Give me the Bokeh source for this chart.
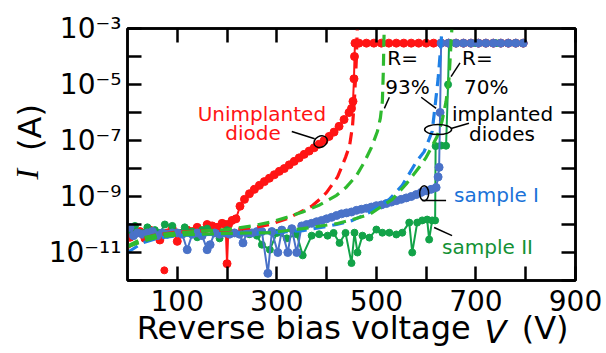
from bokeh.plotting import figure
from bokeh.models import Range1d, LinearAxis, LogAxis, FixedTicker, CustomJSTickFormatter
from bokeh.core.properties import value
from bokeh.embed import file_html
from bokeh.resources import INLINE

# ---------------- data ----------------
xtick_values = [100, 300, 500, 700, 900]
xtick_minor = [200, 400, 600, 800]
ytick_values = [1e-11, 1e-9, 1e-7, 1e-5, 1e-3]
ytick_exps = [-11, -9, -7, -5, -3]
ytick_labels = ["10\u207b\u00b9\u00b9", "10\u207b\u2079", "10\u207b\u2077", "10\u207b\u2075", "10\u207b\u00b3"]
ytick_minor = [1e-12, 1e-10, 1e-8, 1e-6, 1e-4]

# axis title pieces: text and where along the axis each piece is centred
xtitle_plain = ["Reverse bias voltage", "(V)"]
xtitle_plain_at = [354, 839]
xtitle_italic = ["V"]
xtitle_italic_at = [739]
ytitle_plain = ["(A)"]
ytitle_plain_at = [2.9e-7]
ytitle_italic = ["I"]
ytitle_italic_at = [6.3e-9]

# unimplanted diode, measured
red_V = [5, 15, 25, 35, 45, 55, 65, 80, 90, 100, 110, 120, 130, 140, 150, 160, 170, 180, 190, 197,
         200, 203, 210, 218, 226, 235, 245, 255, 265, 275, 285, 295, 305, 315, 325, 335, 345, 355,
         365, 375, 385, 395, 405, 415, 425, 435, 445, 450, 453, 455, 456, 457,
         465, 480, 495, 510, 525, 540, 555, 570, 585, 600, 615, 630, 645, 660, 675, 690, 705, 720,
         735, 750, 765, 780, 795]
red_I = [3.5e-11, 5.0e-11, 5.6e-11, 3.2e-11, 6.3e-11, 4.5e-11, 2.8e-11, 5.0e-11, 7.1e-11, 2.5e-11,
         5.0e-11, 6.3e-11, 5.6e-11, 7.9e-11, 5.0e-11, 1.0e-10, 8.9e-11, 7.9e-11, 1.1e-10, 1.0e-10,
         4.0e-12, 1.0e-10, 1.4e-10, 1.6e-10, 4.5e-10, 7.9e-10, 1.26e-9, 1.8e-9, 2.5e-9, 3.4e-9,
         4.5e-9, 6.0e-9, 7.9e-9, 1.0e-8, 1.35e-8, 1.8e-8, 2.4e-8, 3.2e-8, 4.2e-8, 5.5e-8, 7.4e-8,
         1.0e-7, 1.4e-7, 2.0e-7, 3.2e-7, 5.6e-7, 1.0e-6, 1.4e-6, 2.5e-6, 1.6e-5, 1.0e-4, 3.0e-4,
         3.0e-4, 3.0e-4, 3.0e-4, 3.0e-4, 3.0e-4, 3.0e-4, 3.0e-4, 3.0e-4, 3.0e-4, 3.0e-4, 3.0e-4,
         3.0e-4, 3.0e-4, 3.0e-4, 3.0e-4, 3.0e-4, 3.0e-4, 3.0e-4, 3.0e-4, 3.0e-4, 3.0e-4, 3.0e-4,
         3.0e-4]
red_extra_V = [74]
red_extra_I = [2.3e-12]

# sample I (implanted), measured
blue_V = [5, 12, 20, 30, 40, 50, 60, 70, 80, 90, 100, 110, 120, 130, 140, 150, 160, 166, 175, 185,
          195, 205, 215, 225, 232, 240, 250, 260, 270, 282, 290, 302, 310, 322, 330, 340, 350, 360,
          370, 380, 390, 400, 410, 420, 430, 440, 450, 460, 470, 480, 490, 500, 510, 520, 530, 540,
          550, 560, 570, 580, 590, 600, 610, 620, 624, 626, 628, 630,
          645, 660, 675, 690, 705, 720, 735, 750, 765, 780, 795]
blue_I = [7.9e-11, 4.0e-11, 5.0e-11, 4.5e-11, 5.0e-11, 5.6e-11, 4.0e-11, 5.0e-11, 4.5e-11, 5.0e-11,
          5.0e-11, 4.5e-11, 1.26e-11, 4.5e-11, 5.0e-11, 4.0e-11, 1.26e-11, 1.9e-11, 5.0e-11, 4.5e-11,
          5.0e-11, 4.5e-11, 5.0e-11, 4.5e-11, 2.2e-11, 5.0e-11, 5.0e-11, 5.6e-11, 5.6e-11, 1.8e-12,
          5.6e-11, 1.0e-11, 6.3e-11, 1.0e-11, 7.1e-11, 1.0e-11, 8.9e-11, 1.0e-10, 1.1e-10, 1.26e-10,
          1.4e-10, 1.6e-10, 1.8e-10, 2.1e-10, 2.4e-10, 2.6e-10, 2.8e-10, 3.2e-10, 3.5e-10, 3.8e-10,
          4.2e-10, 4.7e-10, 5.0e-10, 5.6e-10, 6.3e-10, 7.1e-10, 7.9e-10, 8.9e-10, 1.0e-9, 1.17e-9,
          1.4e-9, 1.6e-9, 1.8e-9, 2.1e-9, 5.0e-9, 1.1e-8, 1.0e-6, 3.0e-4,
          3.0e-4, 3.0e-4, 3.0e-4, 3.0e-4, 3.0e-4, 3.0e-4, 3.0e-4, 3.0e-4, 3.0e-4, 3.0e-4, 3.0e-4]

# sample II (implanted), measured
green_V = [5, 15, 25, 40, 55, 65, 75, 90, 100, 115, 130, 140, 150, 160, 175, 185, 200, 215, 230,
           245, 260, 270, 286, 300, 320, 340, 352, 370, 385, 402, 414, 426, 438, 450, 456, 462,
           472, 486, 500, 512, 526, 540, 552, 566, 572, 582, 592, 602, 606, 612, 618, 619, 630,
           640, 644, 646, 660, 700, 740, 780, 795]
green_I = [6.3e-11, 8.9e-11, 5.0e-11, 7.9e-11, 6.3e-11, 5.0e-11, 1.0e-10, 8.9e-11, 5.0e-11, 7.9e-11,
           5.6e-11, 3.5e-11, 6.3e-11, 7.1e-11, 5.0e-11, 3.2e-11, 6.3e-11, 5.0e-11, 5.6e-11, 4.5e-11,
           4.0e-11, 1.9e-11, 1.26e-11, 5.0e-11, 3.2e-11, 4.5e-11, 7.9e-12, 4.0e-11, 4.5e-11, 4.0e-11,
           5.0e-11, 2.2e-11, 5.0e-11, 4.2e-12, 5.1e-11, 1.0e-11, 4.0e-11, 3.4e-11, 6.6e-11, 5.1e-11,
           5.1e-11, 4.4e-11, 5.1e-11, 1.17e-10, 1.0e-11, 1.17e-10, 1.4e-10, 1.5e-10, 2.9e-11, 1.4e-10,
           1.4e-10, 6.3e-8, 6.6e-8, 6.5e-8, 1.0e-5, 3.0e-4, 3.0e-4, 3.0e-4, 3.0e-4, 3.0e-4, 3.0e-4]

# simulated curves (dashed)
redsim_V = [0, 25, 50, 100, 150, 200, 250, 286, 320, 346, 370, 386, 400, 412, 422, 430, 438, 446,
            452, 456, 458, 460, 461, 462]
redsim_I = [1.5e-11, 2.8e-11, 4.0e-11, 5.4e-11, 5.9e-11, 6.3e-11, 7.6e-11, 1.0e-10, 1.6e-10,
            2.7e-10, 4.5e-10, 7.9e-10, 1.4e-9, 2.8e-9, 5.0e-9, 1.1e-8, 2.5e-8, 6.3e-8, 3.2e-7,
            3.2e-6, 1.6e-5, 1.0e-4, 5.0e-4, 1.3e-3]
g93_V = [0, 34, 66, 126, 200, 250, 286, 320, 352, 386, 420, 440, 460, 475, 490, 502, 508, 512,
         514, 515, 516]
g93_I = [1.7e-11, 3.4e-11, 4.5e-11, 5.5e-11, 6.6e-11, 8.9e-11, 1.2e-10, 1.8e-10, 2.8e-10, 5.0e-10,
         1.1e-9, 2.2e-9, 5.6e-9, 1.6e-8, 5.6e-8, 2.1e-7, 6.3e-7, 2.5e-6, 3.2e-5, 3.2e-4, 1.3e-3]
b93_V = [0, 30, 60, 100, 200, 286, 352, 420, 452, 486, 526, 552, 580, 596, 612, 616, 624, 630, 632]
b93_I = [1.0e-11, 2.2e-11, 3.2e-11, 4.0e-11, 4.7e-11, 5.1e-11, 6.0e-11, 1.0e-10, 1.4e-10, 2.7e-10,
         7.9e-10, 2.5e-9, 1.7e-8, 4.0e-8, 2.1e-7, 8.5e-7, 1.6e-5, 3.2e-4, 1.3e-3]
g70_V = [0, 30, 60, 100, 200, 286, 352, 420, 452, 486, 532, 560, 586, 600, 612, 622, 632, 640,
         646, 650, 652]
g70_I = [1.6e-11, 2.5e-11, 3.5e-11, 4.2e-11, 4.8e-11, 5.1e-11, 7.1e-11, 1.07e-10, 1.5e-10, 2.3e-10,
         7.9e-10, 2.8e-9, 1.1e-8, 2.5e-8, 6.3e-8, 1.4e-7, 5.0e-7, 2.5e-6, 1.7e-5, 3.2e-4, 1.3e-3]

RED = "#ff1414"
BLUE_PTS = "#4a72c8"
BLUE_SIM = "#1f80e6"
BLUE_TXT = "#1a72d8"
GREEN_PTS = "#12a348"
GREEN_SIM = "#2fba2f"
GREEN_TXT = "#139135"

p = figure(width=606, height=353, y_axis_type="log",
           x_range=Range1d(0, 900), y_range=Range1d(1e-12, 1e-3),
           output_backend="svg", toolbar_location=None, title_location=None,
           min_border_left=127, min_border_right=31, min_border_top=28, min_border_bottom=0)
p.grid.visible = False
p.outline_line_color = "black"
p.outline_line_width = 2.5
p.background_fill_color = "white"
p.border_fill_color = "white"


def style(ax):
    ax.axis_line_width = 2.5
    ax.axis_line_color = "black"
    ax.major_tick_in = 14
    ax.major_tick_out = 0
    ax.major_tick_line_width = 2.5
    ax.minor_tick_in = 14
    ax.minor_tick_out = 0
    ax.minor_tick_line_width = 2.5
    ax.major_label_text_font = "DejaVu Sans"
    ax.major_label_text_font_size = "28px"
    ax.major_label_text_color = "black"


def title_axis(kind, ticks, labels, font, style_, standoff, vertical=False):
    ax = kind(ticker=FixedTicker(ticks=ticks),
              formatter=CustomJSTickFormatter(args=dict(labels=labels), code="return labels[index];"))
    ax.axis_line_color = None
    ax.major_tick_line_color = None
    ax.minor_tick_line_color = None
    ax.major_tick_in = 0
    ax.major_tick_out = 0
    ax.minor_tick_in = 0
    ax.minor_tick_out = 0
    ax.major_label_text_font = font
    ax.major_label_text_font_size = "32px"
    ax.major_label_text_font_style = style_
    ax.major_label_text_color = "black"
    ax.major_label_standoff = standoff
    if vertical:
        ax.major_label_orientation = "vertical"
    return ax


blank = CustomJSTickFormatter(code="return '';")

xa = p.xaxis[0]
xa.ticker = FixedTicker(ticks=xtick_values, minor_ticks=xtick_minor)
style(xa)
xa.major_label_standoff = 9

ya = p.yaxis[0]
ya.ticker = FixedTicker(ticks=ytick_values, minor_ticks=ytick_minor)
ya.formatter = CustomJSTickFormatter(args=dict(exps=ytick_exps, labels=ytick_labels),
                                     code="const e = Math.round(Math.log10(tick)); const i = exps.indexOf(e); return i >= 0 ? labels[i] : '';")
style(ya)
ya.major_label_standoff = 6

top = LinearAxis(ticker=FixedTicker(ticks=xtick_values, minor_ticks=xtick_minor), formatter=blank)
style(top)
top.major_label_text_font_size = "0px"
top.major_label_standoff = 0
p.add_layout(top, "above")
right = LogAxis(ticker=FixedTicker(ticks=ytick_values, minor_ticks=ytick_minor), formatter=blank)
style(right)
right.major_label_text_font_size = "0px"
right.major_label_standoff = 0
p.add_layout(right, "right")

# axis titles as extra, line-less axes (stacked outside the tick-label axes)
p.add_layout(title_axis(LinearAxis, xtitle_plain_at, xtitle_plain, "DejaVu Sans", "normal", -5), "below")
p.add_layout(title_axis(LinearAxis, xtitle_italic_at, xtitle_italic, "DejaVu Sans", "italic", -37), "below")
p.add_layout(title_axis(LogAxis, ytitle_plain_at, ytitle_plain, "DejaVu Sans", "normal", -4, True), "left")
p.add_layout(title_axis(LogAxis, ytitle_italic_at, ytitle_italic, "Liberation Serif", "italic", -37, True), "left")

# measured data
p.line(red_V, red_I, line_color=RED, line_width=2)
p.scatter(red_V, red_I, size=8, color=RED)
p.scatter(red_extra_V, red_extra_I, size=7, color=RED)
p.line(green_V, green_I, line_color=GREEN_PTS, line_width=2)
p.scatter(green_V, green_I, size=7, color=GREEN_PTS)
p.line(blue_V, blue_I, line_color=BLUE_PTS, line_width=2)
p.scatter(blue_V, blue_I, size=8, color=BLUE_PTS)

# simulated
p.line(redsim_V, redsim_I, line_color=RED, line_width=3.2, line_dash="12 7")
p.line(g93_V, g93_I, line_color=GREEN_SIM, line_width=3.2, line_dash="12 7")
p.line(b93_V, b93_I, line_color=BLUE_SIM, line_width=3.2, line_dash="12 7")
p.line(g70_V, g70_I, line_color=GREEN_SIM, line_width=3.2, line_dash="12 7")

FONT = value("DejaVu Sans")
# annotations
p.text(x=[270, 252], y=[9.2e-7, 1.9e-7], text=["Unimplanted", "diode"], text_font=FONT,
       text_font_size="20px", text_color=RED, text_align="center", text_baseline="alphabetic")
p.text(x=[522, 518, 672, 676, 652, 686], y=[9.0e-5, 8.0e-6, 9.0e-5, 8.0e-6, 9.2e-7, 1.75e-7],
       text=["R=", "93%", "R=", "70%", "implanted", "diodes"], text_font=FONT,
       text_font_size="20px", text_color="black", text_align="left", text_baseline="alphabetic")
p.text(x=[656], y=[1.1e-9], text=["sample I"], text_font=FONT, text_font_size="20px",
       text_color=BLUE_TXT, text_align="left", text_baseline="alphabetic")
p.text(x=[632], y=[1.6e-11], text=["sample II"], text_font=FONT, text_font_size="20px",
       text_color=GREEN_TXT, text_align="left", text_baseline="alphabetic")
p.segment(x0=[330, 526, 590, 668, 650, 592, 616], y0=[2.1e-7, 3.5e-6, 3.5e-6, 5.9e-5, 2.7e-7, 7.2e-10, 7.8e-11],
          x1=[376, 516, 620, 650, 686, 640, 652], y1=[1.15e-7, 1.4e-6, 1.4e-6, 1.9e-5, 4.1e-7, 7.2e-10, 4.0e-11],
          line_color="black", line_width=1.5)
p.ellipse(x=[388, 624, 596], y=[9.1e-8, 2.45e-7, 1.3e-9], width=[14, 27, 9], height=[11, 10, 15],
          width_units="screen", height_units="screen", angle=[0.5, 0, 0],
          fill_color=None, line_color="black", line_width=1.5)

open("out.html", "w").write(file_html(p, INLINE))
